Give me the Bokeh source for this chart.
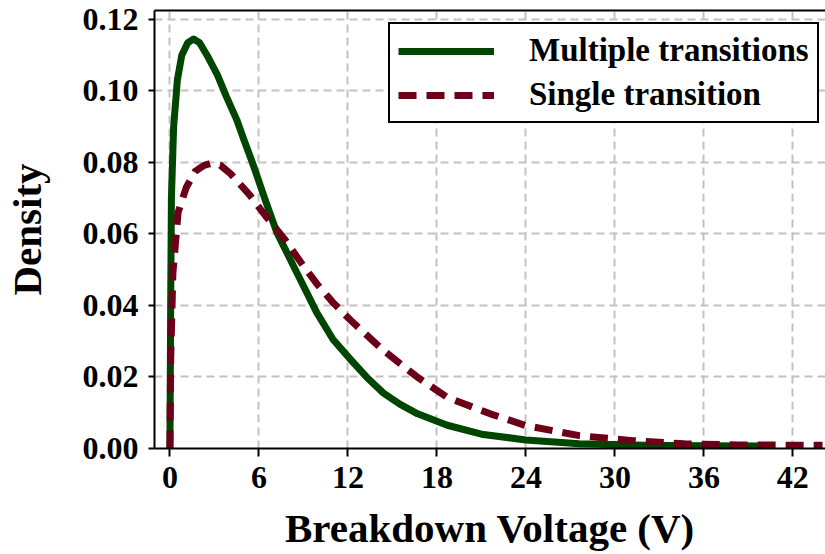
from bokeh.plotting import figure
from bokeh.models import (Range1d, FixedTicker, LinearAxis, Legend, LegendItem,
                          PrintfTickFormatter, ColumnDataSource)
from bokeh.embed import file_html
from bokeh.resources import INLINE

# ---- data ----
multi_x = [0.0, 0.05, 0.1, 0.25, 0.5, 0.8, 1.2, 1.6, 2.0, 2.5, 3.2, 3.8, 4.5, 5.0, 5.6,
           6.4, 7.2, 8.4, 9.9, 11.0, 12.2, 13.3, 14.4, 15.5, 16.7, 18.7, 21.0, 24.0,
           27.6, 32.0, 36.0, 40.0]
multi_y = [0.0, 0.040, 0.070, 0.090, 0.103, 0.110, 0.1135, 0.1145, 0.1135, 0.110,
           0.1045, 0.0985, 0.092, 0.0862, 0.0795, 0.0698, 0.0605, 0.0505, 0.038,
           0.0305, 0.0248, 0.0198, 0.0155, 0.0124, 0.0097, 0.0065, 0.0040, 0.0024,
           0.0013, 0.0009, 0.0008, 0.0007]

single_x = [0.0, 0.05, 0.2, 0.55, 1.1, 1.7, 2.3, 2.8, 3.4, 4.1, 5.4, 6.5, 7.7, 8.8,
            9.9, 11.0, 12.2, 14.4, 16.7, 18.7, 21.6, 24.0, 27.6, 31.2, 34.7, 38.3, 44.0]
single_y = [0.0, 0.025, 0.049, 0.066, 0.073, 0.0775, 0.0792, 0.0798, 0.0792,
            0.0768, 0.0708, 0.0648, 0.0587, 0.0522, 0.0461, 0.0408, 0.0358, 0.0274,
            0.0199, 0.0143, 0.0097, 0.0064, 0.0036, 0.0022, 0.0013, 0.0010, 0.0009]

x_ticks = [0, 6, 12, 18, 24, 30, 36, 42]
y_ticks = [0.0, 0.02, 0.04, 0.06, 0.08, 0.10, 0.12]
series_labels = ["Multiple transitions", "Single transition"]
x_title = "Breakdown Voltage (V)"
y_title = "Density"

FONT = "Liberation Serif"
GREEN = "#004600"
RED = "#6c0018"

p = figure(width=825, height=554, output_backend="svg", toolbar_location=None,
           x_range=Range1d(-1.04, 44.2), y_range=Range1d(0, 0.1225),
           min_border_left=154, min_border_right=0, min_border_top=10,
           min_border_bottom=106)
p.outline_line_color = None
p.background_fill_color = "white"
p.border_fill_color = "white"

src_m = ColumnDataSource(dict(x=multi_x, y=multi_y))
src_s = ColumnDataSource(dict(x=single_x, y=single_y))
r1 = p.line("x", "y", source=src_m, line_color=GREEN, line_width=7,
            line_join="round")
r2 = p.line("x", "y", source=src_s, line_color=RED, line_width=7,
            line_dash="18 10", line_join="round")

# axes
xa = p.xaxis[0]
xa.ticker = FixedTicker(ticks=x_ticks)
ya = p.yaxis[0]
ya.ticker = FixedTicker(ticks=y_ticks)
ya.formatter = PrintfTickFormatter(format="%.2f")
for ax in (xa, ya):
    ax.axis_line_color = "black"
    ax.axis_line_width = 2
    ax.major_tick_line_color = "black"
    ax.major_tick_line_width = 2
    ax.major_tick_in = 0
    ax.minor_tick_line_color = None
    ax.major_label_text_font = FONT
    ax.major_label_text_font_style = "bold"
    ax.major_label_text_font_size = "32px"
    ax.major_label_text_color = "black"
    ax.axis_label_text_font = FONT
    ax.axis_label_text_font_style = "bold"
    ax.axis_label_text_font_size = "41px"
    ax.axis_label_text_color = "black"
xa.major_tick_out = 8
ya.major_tick_out = 6
xa.major_label_standoff = 10
ya.major_label_standoff = 10
xa.axis_label = x_title
ya.axis_label = y_title
xa.axis_label_standoff = 14
ya.axis_label_standoff = 30

# top border line
top = LinearAxis(ticker=FixedTicker(ticks=[]), major_label_text_font_size="0px",
                 major_tick_out=0, major_tick_in=0, minor_tick_out=0,
                 axis_line_color="black", axis_line_width=2)
p.add_layout(top, "above")

# grid
for g, t in ((p.xgrid[0], x_ticks), (p.ygrid[0], y_ticks)):
    g.ticker = FixedTicker(ticks=t)
    g.grid_line_color = "#c2c2c2"
    g.grid_line_width = 2
    g.grid_line_dash = "8 5"

legend = Legend(items=[LegendItem(label=series_labels[0], renderers=[r1]),
                       LegendItem(label=series_labels[1], renderers=[r2])],
                location=(234, 325))
legend.border_line_color = "black"
legend.border_line_alpha = 1.0
legend.border_line_width = 2
legend.background_fill_color = "white"
legend.background_fill_alpha = 1.0
legend.label_text_font = FONT
legend.label_text_font_style = "bold"
legend.label_text_font_size = "33px"
legend.label_text_color = "black"
legend.glyph_width = 96
legend.glyph_height = 36
legend.label_height = 36
legend.label_standoff = 35
legend.padding = 8
legend.spacing = 7
legend.margin = 0
p.add_layout(legend)

open("out.html", "w").write(file_html(p, INLINE))
